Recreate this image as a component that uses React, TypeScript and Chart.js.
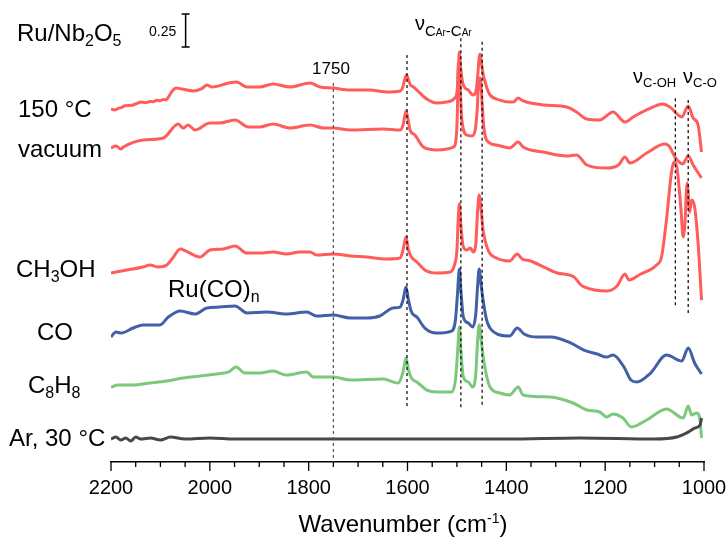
import { useEffect, useRef } from "react";
import { Chart, registerables } from "chart.js";

Chart.register(...registerables);

// ---------- data (wavenumber in cm-1, absorbance incl. stacking offset) ----------
const wnHot = [2200, 2192, 2185, 2178, 2172, 2158, 2151, 2138, 2131, 2121, 2114, 2108, 2101, 2094, 2089, 2084, 2077, 2068, 2057, 2033, 2017, 2006, 1996, 1962, 1946, 1925, 1899, 1872, 1838, 1797, 1777, 1751, 1716, 1676, 1642, 1615, 1610, 1606, 1602, 1598, 1594, 1588, 1581, 1561, 1541, 1521, 1504, 1499, 1497, 1495, 1493, 1490, 1487, 1477, 1467, 1460, 1457, 1455, 1453, 1450, 1447, 1443, 1438, 1433, 1413, 1393, 1386, 1376, 1366, 1325, 1278, 1258, 1237, 1211, 1184, 1160, 1143, 1116, 1083, 1069, 1045, 1032, 1022, 1012, 1005];
const absHot = [2.672, 2.667, 2.679, 2.687, 2.699, 2.702, 2.712, 2.727, 2.722, 2.732, 2.73, 2.74, 2.737, 2.747, 2.742, 2.763, 2.806, 2.833, 2.826, 2.811, 2.826, 2.856, 2.841, 2.871, 2.879, 2.841, 2.841, 2.864, 2.841, 2.871, 2.841, 2.833, 2.818, 2.818, 2.803, 2.811, 2.833, 2.894, 2.932, 2.894, 2.856, 2.841, 2.818, 2.75, 2.72, 2.727, 2.758, 2.833, 2.985, 3.106, 3.015, 2.909, 2.856, 2.818, 2.78, 2.841, 2.97, 3.061, 3.091, 3.015, 2.939, 2.879, 2.818, 2.78, 2.742, 2.727, 2.727, 2.758, 2.735, 2.705, 2.689, 2.652, 2.598, 2.591, 2.652, 2.576, 2.614, 2.667, 2.712, 2.689, 2.614, 2.697, 2.606, 2.553, 2.348];

const wnVac = [2200, 2190, 2180, 2175, 2135, 2094, 2064, 2054, 2044, 2030, 2000, 1980, 1949, 1922, 1899, 1872, 1838, 1797, 1770, 1750, 1716, 1649, 1615, 1609, 1603, 1598, 1595, 1585, 1568, 1541, 1507, 1501, 1499, 1497, 1494, 1490, 1480, 1470, 1463, 1459, 1456, 1453, 1450, 1446, 1440, 1420, 1393, 1376, 1366, 1325, 1278, 1258, 1237, 1197, 1173, 1160, 1150, 1116, 1079, 1069, 1059, 1043, 1032, 1022, 1005];
const absVac = [2.379, 2.394, 2.371, 2.386, 2.439, 2.455, 2.561, 2.53, 2.553, 2.515, 2.568, 2.568, 2.591, 2.538, 2.538, 2.561, 2.53, 2.553, 2.53, 2.53, 2.515, 2.523, 2.515, 2.553, 2.659, 2.576, 2.515, 2.477, 2.386, 2.364, 2.386, 2.477, 2.667, 3.023, 2.894, 2.591, 2.477, 2.47, 2.515, 2.667, 2.879, 2.909, 2.78, 2.553, 2.439, 2.402, 2.379, 2.424, 2.386, 2.348, 2.318, 2.326, 2.25, 2.227, 2.25, 2.311, 2.265, 2.341, 2.409, 2.386, 2.311, 2.258, 2.318, 2.25, 2.152];

const wnMeOH = [2200, 2168, 2135, 2121, 2104, 2087, 2075, 2060, 2048, 2020, 2000, 1973, 1949, 1925, 1899, 1872, 1845, 1818, 1797, 1784, 1750, 1716, 1683, 1642, 1615, 1609, 1603, 1598, 1592, 1581, 1565, 1541, 1514, 1505, 1500, 1497, 1495, 1492, 1487, 1480, 1473, 1467, 1462, 1458, 1455, 1451, 1447, 1437, 1420, 1393, 1378, 1368, 1351, 1324, 1297, 1263, 1249, 1243, 1196, 1176, 1160, 1152, 1128, 1096, 1086, 1076, 1066, 1061, 1055, 1047, 1042, 1039, 1034, 1029, 1025, 1019, 1012, 1005];
const absMeOH = [1.432, 1.455, 1.477, 1.492, 1.477, 1.492, 1.545, 1.614, 1.598, 1.553, 1.606, 1.614, 1.636, 1.583, 1.583, 1.591, 1.576, 1.591, 1.591, 1.568, 1.576, 1.561, 1.553, 1.538, 1.545, 1.606, 1.705, 1.606, 1.553, 1.515, 1.455, 1.432, 1.439, 1.492, 1.606, 1.871, 1.955, 1.795, 1.629, 1.606, 1.621, 1.591, 1.644, 1.909, 2.023, 1.909, 1.758, 1.606, 1.545, 1.523, 1.576, 1.538, 1.523, 1.477, 1.432, 1.402, 1.341, 1.326, 1.295, 1.333, 1.424, 1.379, 1.424, 1.492, 1.553, 1.833, 2.189, 2.273, 2.235, 1.932, 1.705, 1.78, 2.114, 1.894, 1.985, 1.932, 1.659, 1.227];

const wnCO = [2200, 2190, 2180, 2155, 2135, 2101, 2084, 2060, 2030, 2006, 1980, 1949, 1925, 1885, 1845, 1804, 1784, 1750, 1716, 1683, 1656, 1629, 1615, 1609, 1603, 1598, 1592, 1581, 1565, 1541, 1511, 1503, 1499, 1495, 1492, 1487, 1477, 1468, 1462, 1458, 1455, 1451, 1447, 1440, 1433, 1413, 1393, 1378, 1364, 1337, 1310, 1270, 1243, 1216, 1197, 1184, 1162, 1148, 1136, 1108, 1076, 1045, 1032, 1019, 1005];
const absCO = [0.947, 0.985, 0.977, 1.015, 1.038, 1.038, 1.098, 1.144, 1.121, 1.167, 1.174, 1.182, 1.129, 1.136, 1.121, 1.136, 1.106, 1.114, 1.091, 1.091, 1.106, 1.167, 1.174, 1.227, 1.326, 1.227, 1.136, 1.098, 1.015, 0.977, 0.992, 1.076, 1.265, 1.462, 1.303, 1.098, 1.053, 1.023, 1.114, 1.341, 1.462, 1.341, 1.227, 1.076, 1.015, 0.962, 0.955, 1.015, 0.97, 0.947, 0.947, 0.902, 0.848, 0.818, 0.795, 0.811, 0.72, 0.621, 0.606, 0.674, 0.811, 0.765, 0.864, 0.75, 0.667];

const wnStyr = [2200, 2185, 2155, 2121, 2087, 2054, 2020, 1986, 1962, 1947, 1929, 1899, 1872, 1845, 1804, 1791, 1750, 1716, 1649, 1619, 1609, 1603, 1598, 1592, 1581, 1561, 1541, 1511, 1503, 1499, 1495, 1492, 1487, 1477, 1468, 1462, 1458, 1455, 1451, 1445, 1433, 1413, 1393, 1376, 1366, 1312, 1265, 1237, 1211, 1197, 1184, 1164, 1147, 1116, 1076, 1042, 1032, 1025, 1015, 1008, 1005];
const absStyr = [0.568, 0.583, 0.583, 0.598, 0.614, 0.636, 0.652, 0.667, 0.682, 0.72, 0.674, 0.674, 0.689, 0.659, 0.682, 0.644, 0.644, 0.621, 0.629, 0.598, 0.682, 0.788, 0.697, 0.636, 0.606, 0.545, 0.53, 0.53, 0.621, 0.811, 1.023, 0.848, 0.644, 0.606, 0.568, 0.659, 0.924, 1.038, 0.924, 0.75, 0.568, 0.523, 0.508, 0.568, 0.508, 0.492, 0.447, 0.394, 0.379, 0.341, 0.364, 0.333, 0.265, 0.318, 0.402, 0.333, 0.424, 0.356, 0.371, 0.318, 0.182];

const wnAr = [2200, 2190, 2180, 2170, 2160, 2150, 2140, 2120, 2100, 2080, 2050, 2000, 1950, 1800, 1600, 1400, 1250, 1100, 1055, 1035, 1018, 1008, 1005];
const absAr = [0.174, 0.189, 0.167, 0.182, 0.159, 0.189, 0.174, 0.182, 0.167, 0.189, 0.174, 0.182, 0.174, 0.174, 0.174, 0.174, 0.182, 0.174, 0.189, 0.22, 0.258, 0.28, 0.333];

// band markers (dashed guide lines)
const markerWn = [1750, 1601, 1492, 1449, 1058, 1032];
const markerTop = [2.871, 3.083, 3.21, 3.184, 2.755, 2.742];
const markerBottom = [0, 0.417, 0.394, 0.432, 1.177, 1.127];

// axis
const xMin = 1000;
const xMax = 2200;
const majorStep = 200;
const minorStep = 50;

// absorbance scale bar
const barWn = 2049;
const barFrom = 3.144;
const barSize = 0.25;

const FONT = "'Liberation Sans', Arial, Helvetica, sans-serif";
const RED = "rgb(255, 92, 92)";
const BLUE = "rgb(66, 96, 170)";
const GREEN = "rgb(124, 200, 124)";
const GRAY = "rgb(72, 72, 72)";

type Part = [string, number, number];
interface TextLabel { x: number; y: number; parts: Part[]; center?: boolean }

const textLabels: TextLabel[] = [
  { x: 17, y: 41, parts: [["Ru/Nb", 24, 0], ["2", 16, 5], ["O", 24, 0], ["5", 16, 5]] },
  { x: 149, y: 36, parts: [["0.25", 14, 0]] },
  { x: 18, y: 117, parts: [["150 °C", 24, 0]] },
  { x: 18, y: 157, parts: [["vacuum", 24, 0]] },
  { x: 16, y: 277, parts: [["CH", 24, 0], ["3", 16, 5], ["OH", 24, 0]] },
  { x: 168, y: 297, parts: [["Ru(CO)", 24, 0], ["n", 16, 5]] },
  { x: 37, y: 340, parts: [["CO", 24, 0]] },
  { x: 28, y: 393, parts: [["C", 24, 0], ["8", 16, 5], ["H", 24, 0], ["8", 16, 5]] },
  { x: 9, y: 446, parts: [["Ar, 30 °C", 24, 0]] },
  { x: 331, y: 74, parts: [["1750", 17, 0]], center: true },
  { x: 415, y: 30, parts: [["ν", 20, 0], ["C", 15, 6], ["Ar", 10, 6], ["-", 15, 6], ["C", 15, 6], ["Ar", 10, 6]] },
  { x: 633, y: 83, parts: [["ν", 20, 0], ["C-OH", 13, 4]] },
  { x: 683, y: 83, parts: [["ν", 20, 0], ["C-O", 13, 4]] },
  { x: 403, y: 532, parts: [["Wavenumber (cm", 24, 0], ["-1", 14, -9], [")", 24, 0]], center: true },
];

function drawRich(ctx: CanvasRenderingContext2D, lab: TextLabel) {
  ctx.textBaseline = "alphabetic";
  ctx.textAlign = "left";
  let total = 0;
  for (const [t, s] of lab.parts) {
    ctx.font = `${s}px ${FONT}`;
    total += ctx.measureText(t).width;
  }
  let x = lab.center ? lab.x - total / 2 : lab.x;
  for (const [t, s, dy] of lab.parts) {
    ctx.font = `${s}px ${FONT}`;
    ctx.fillText(t, x, lab.y + dy);
    x += ctx.measureText(t).width;
  }
}

const annotPlugin = {
  id: "annot",
  afterDraw(chart: any) {
    const ctx: CanvasRenderingContext2D = chart.ctx;
    const xs = chart.scales.x;
    const ys = chart.scales.y;
    const yb = chart.chartArea.bottom;
    ctx.save();
    ctx.strokeStyle = "#000";
    ctx.lineWidth = 1.3;
    for (let v = xMin; v <= xMax; v += minorStep) {
      const px = xs.getPixelForValue(v);
      const len = v % majorStep === 0 ? 9 : 5;
      ctx.beginPath();
      ctx.moveTo(px, yb);
      ctx.lineTo(px, yb + len);
      ctx.stroke();
    }
    // scale bar
    const bx = xs.getPixelForValue(barWn);
    const b1 = ys.getPixelForValue(barFrom);
    const b2 = ys.getPixelForValue(barFrom + barSize);
    ctx.lineWidth = 1.5;
    ctx.beginPath();
    ctx.moveTo(bx, b1);
    ctx.lineTo(bx, b2);
    ctx.moveTo(bx - 4, b1);
    ctx.lineTo(bx + 4, b1);
    ctx.moveTo(bx - 4, b2);
    ctx.lineTo(bx + 4, b2);
    ctx.stroke();
    ctx.fillStyle = "#000";
    for (const lab of textLabels) drawRich(ctx, lab);
    ctx.restore();
  },
};

function series(wn: number[], ab: number[]) {
  return wn.map((x, i) => ({ x, y: ab[i] }));
}

export default function App() {
  const ref = useRef<HTMLCanvasElement | null>(null);
  useEffect(() => {
    if (!ref.current) return;
    const spectra = [
      { data: series(wnAr, absAr), color: GRAY },
      { data: series(wnStyr, absStyr), color: GREEN },
      { data: series(wnCO, absCO), color: BLUE },
      { data: series(wnMeOH, absMeOH), color: RED },
      { data: series(wnVac, absVac), color: RED },
      { data: series(wnHot, absHot), color: RED },
    ];
    const datasets: any[] = spectra.map((s) => ({
      data: s.data,
      borderColor: s.color,
      borderWidth: 3,
      pointRadius: 0,
      cubicInterpolationMode: "monotone",
      fill: false,
      order: 2,
    }));
    markerWn.forEach((w, i) => {
      datasets.push({
        data: [
          { x: w, y: markerTop[i] },
          { x: w, y: markerBottom[i] },
        ],
        borderColor: i === 0 ? "#555" : "#000",
        borderWidth: 1.2,
        borderDash: [3, 3],
        pointRadius: 0,
        fill: false,
        order: 1,
      });
    });
    const chart = new Chart(ref.current, {
      type: "line",
      data: { datasets },
      plugins: [annotPlugin],
      options: {
        animation: false,
        responsive: false,
        layout: { padding: { left: 111, right: 24, top: 0, bottom: 0 } },
        plugins: { legend: { display: false }, tooltip: { enabled: false }, title: { display: false } },
        scales: {
          x: {
            type: "linear",
            reverse: true,
            min: xMin,
            max: xMax,
            grid: { display: false, drawTicks: true, tickLength: 14 },
            border: { display: true, color: "#000", width: 1.5 },
            ticks: {
              stepSize: majorStep,
              padding: 0,
              color: "#000",
              font: { size: 20, family: FONT },
              maxRotation: 0,
              callback: (v: any) => String(v),
            },
            afterFit: (scale: any) => {
              scale.height = 78;
            },
          },
          y: { type: "linear", display: false, min: 0, max: 3.5 },
        },
      } as any,
    });
    return () => chart.destroy();
  }, []);
  return (
    <div style={{ position: "fixed", left: 0, top: 0, width: 728, height: 540, background: "#fff" }}>
      <canvas ref={ref} width={728} height={540} />
    </div>
  );
}
